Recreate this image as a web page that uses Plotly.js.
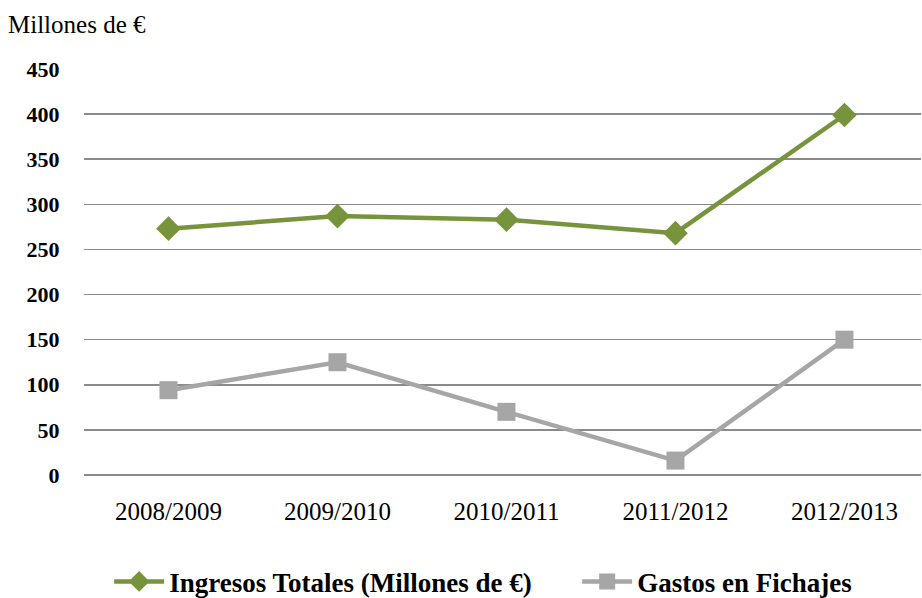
<!DOCTYPE html>
<html><head><meta charset="utf-8">
<script src="https://cdn.plot.ly/plotly-3.0.1.min.js"></script>
<style>body{margin:0;background:#fff}#c{width:922px;height:598px}</style>
</head><body><div id="c"></div>
<script>
const seasons = ["2008/2009","2009/2010","2010/2011","2011/2012","2012/2013"];
const ingresos = [273, 287, 283, 268, 399];
const gastos = [94, 125, 70, 16, 150];
const yTicks = [0,50,100,150,200,250,300,350,400,450];
const FONT = "'Liberation Serif', 'DejaVu Serif', serif";
const PAD = "\u00A0".repeat(6);

const traces = [
  {x: seasons, y: ingresos, name: "Ingresos Totales (Millones de €)" + PAD, type: "scatter", mode: "lines+markers",
   line: {color: "#77933C", width: 4.5}, marker: {symbol: "diamond", size: 19, color: "#77933C"}},
  {x: seasons, y: gastos, name: "Gastos en Fichajes", type: "scatter", mode: "lines+markers",
   line: {color: "#A6A6A6", width: 4.5}, marker: {symbol: "square", size: 18, color: "#A6A6A6"}}
];
const layout = {
  width: 922, height: 598,
  margin: {l: 84, r: 1, t: 69, b: 123},
  paper_bgcolor: "#fff", plot_bgcolor: "#fff",
  font: {family: FONT, color: "#000", size: 18},
  showlegend: true,
  legend: {orientation: "h", xref: "container", yref: "container", x: 0.524, xanchor: "center", y: 0.027, yanchor: "middle",
    font: {family: FONT, size: 27, weight: "bold"}, itemwidth: 50, tracegroupgap: 0},
  xaxis: {type: "category", range: [-0.5, 4.453], showgrid: false, zeroline: false, showline: false,
    ticks: "outside", ticklen: 14, tickcolor: "rgba(0,0,0,0)", tickfont: {family: FONT, size: 25}},
  yaxis: {range: [0, 450], tickvals: yTicks, ticktext: yTicks.map(String), showgrid: true, gridcolor: "#8A8A8A", gridwidth: 1.5,
    zeroline: true, zerolinecolor: "#8A8A8A", zerolinewidth: 1.5, showline: false,
    ticks: "outside", ticklen: 19, tickcolor: "rgba(0,0,0,0)", tickfont: {family: FONT, size: 22, weight: "bold"}},
  annotations: [{text: "Millones de €", xref: "paper", yref: "paper", x: -78/837, y: 1 + 44/406, xanchor: "left", yanchor: "middle",
    showarrow: false, font: {family: FONT, size: 25, color: "#000"}}]
};
Plotly.newPlot("c", traces, layout, {displayModeBar: false, staticPlot: true});
</script></body></html>
